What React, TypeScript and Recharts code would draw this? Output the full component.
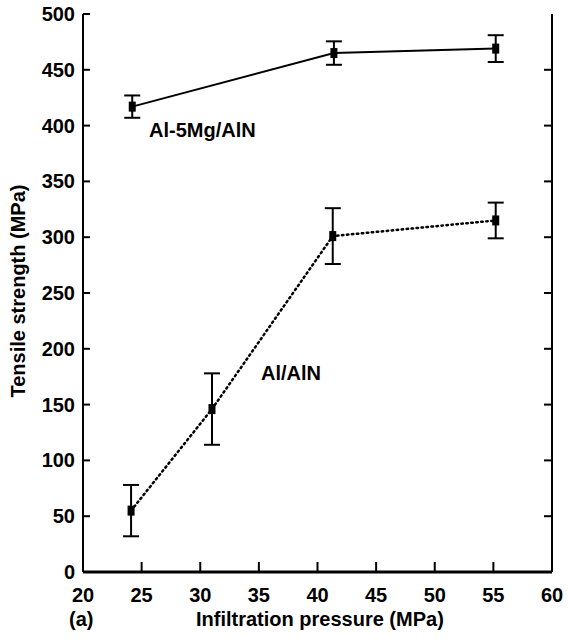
import React from "react";
import { LineChart, Line, XAxis, YAxis, ErrorBar } from "recharts";

// Al-5Mg/AlN
const pressureMg = [24.2, 41.4, 55.2];
const strengthMg = [417, 465, 469];
const errMg = [10, 10.5, 12];

// Al/AlN
const pressureAl = [24.1, 31.0, 41.3, 55.2];
const strengthAl = [55, 146, 301, 315];
const errAl = [23, 32, 25, 16];

const xTicks = [20, 25, 30, 35, 40, 45, 50, 55, 60];
const yTicks = [0, 50, 100, 150, 200, 250, 300, 350, 400, 450, 500];
const innerXTicks = [25, 30, 35, 40, 45, 50, 55];
const innerYTicks = [50, 100, 150, 200, 250, 300, 350, 400, 450];

const dataMg = pressureMg.map((x, i) => ({ x, y: strengthMg[i], err: errMg[i] }));
const dataAl = pressureAl.map((x, i) => ({ x, y: strengthAl[i], err: errAl[i] }));

const FONT = "'Liberation Sans', Arial, sans-serif";

function LeftTick(props: any) {
  const { x, y, payload } = props;
  return (
    <g>
      <line x1={x} x2={x + 7} y1={y} y2={y} stroke="#000" strokeWidth={2} />
      <text x={x - 8} y={y} dy={7} textAnchor="end" fontFamily={FONT} fontWeight="bold" fontSize={20} fill="#000">
        {payload.value}
      </text>
    </g>
  );
}

function RightTick(props: any) {
  const { x, y } = props;
  return <line x1={x} x2={x - 8} y1={y} y2={y} stroke="#000" strokeWidth={2} />;
}

function BottomTick(props: any) {
  const { x, y, payload } = props;
  return (
    <g>
      <line x1={x} x2={x} y1={y} y2={y - 10} stroke="#000" strokeWidth={2} />
      <text x={x} y={y + 30} textAnchor="middle" fontFamily={FONT} fontWeight="bold" fontSize={20} fill="#000">
        {payload.value}
      </text>
    </g>
  );
}

function TopTick(props: any) {
  const { x, y } = props;
  return <line x1={x} x2={x} y1={y} y2={y + 8} stroke="#000" strokeWidth={2} />;
}

function SquareDot(props: any) {
  const { cx, cy } = props;
  if (cx == null || cy == null) return null;
  return <rect x={cx - 3.5} y={cy - 5} width={7} height={10} fill="#000" />;
}

const labelStyle: React.CSSProperties = {
  position: "absolute",
  fontFamily: FONT,
  fontWeight: "bold",
  fontSize: 20,
  lineHeight: "24px",
  whiteSpace: "nowrap",
};

export default function App() {
  return (
    <div style={{ position: "absolute", left: 0, top: 0, width: 568, height: 642, background: "#fff" }}>
      <LineChart width={568} height={642} margin={{ top: 14, right: 0, bottom: 0, left: 0 }}>
        <XAxis
          xAxisId="bottom"
          type="number"
          dataKey="x"
          domain={[20, 60]}
          ticks={xTicks}
          orientation="bottom"
          height={70}
          tickSize={0}
          tickMargin={0}
          tickLine={false}
          axisLine={{ stroke: "#000", strokeWidth: 3 }}
          tick={<BottomTick />}
          interval={0}
        />
        <XAxis
          xAxisId="top"
          type="number"
          dataKey="x"
          domain={[20, 60]}
          ticks={innerXTicks}
          orientation="top"
          height={0}
          tickSize={0}
          tickMargin={0}
          tickLine={false}
          axisLine={{ stroke: "#000", strokeWidth: 2 }}
          tick={<TopTick />}
          interval={0}
        />
        <YAxis
          yAxisId="left"
          type="number"
          domain={[0, 500]}
          ticks={yTicks}
          orientation="left"
          width={83}
          tickSize={0}
          tickMargin={0}
          tickLine={false}
          axisLine={{ stroke: "#000", strokeWidth: 2 }}
          tick={<LeftTick />}
          interval={0}
        />
        <YAxis
          yAxisId="right"
          type="number"
          domain={[0, 500]}
          ticks={innerYTicks}
          orientation="right"
          width={16}
          tickSize={0}
          tickMargin={0}
          tickLine={false}
          axisLine={{ stroke: "#000", strokeWidth: 2 }}
          tick={<RightTick />}
          interval={0}
        />
        {/* invisible series so the top and right frame axes get drawn */}
        <Line
          xAxisId="top"
          yAxisId="right"
          data={dataMg}
          dataKey="y"
          stroke="none"
          dot={false}
          activeDot={false}
          isAnimationActive={false}
        />
        <Line
          xAxisId="bottom"
          yAxisId="left"
          data={dataMg}
          dataKey="y"
          stroke="#000"
          strokeWidth={2}
          dot={<SquareDot />}
          activeDot={false}
          isAnimationActive={false}
        >
          <ErrorBar dataKey="err" direction="y" width={8} stroke="#000" strokeWidth={2} isAnimationActive={false} />
        </Line>
        <Line
          xAxisId="bottom"
          yAxisId="left"
          data={dataAl}
          dataKey="y"
          stroke="#000"
          strokeWidth={2.5}
          strokeDasharray="1.5 3.5"
          strokeLinecap="round"
          dot={<SquareDot />}
          activeDot={false}
          isAnimationActive={false}
        >
          <ErrorBar dataKey="err" direction="y" width={8} stroke="#000" strokeWidth={2} isAnimationActive={false} />
        </Line>
      </LineChart>
      <div style={{ ...labelStyle, left: 149, top: 118 }}>Al-5Mg/AlN</div>
      <div style={{ ...labelStyle, left: 261, top: 361 }}>Al/AlN</div>
      <div style={{ ...labelStyle, left: 69, top: 607 }}>(a)</div>
      <div style={{ ...labelStyle, left: 196, top: 607 }}>Infiltration pressure (MPa)</div>
      <div
        style={{
          ...labelStyle,
          left: 18,
          top: 291,
          transform: "translate(-50%, -50%) rotate(-90deg)",
        }}
      >
        Tensile strength (MPa)
      </div>
    </div>
  );
}
